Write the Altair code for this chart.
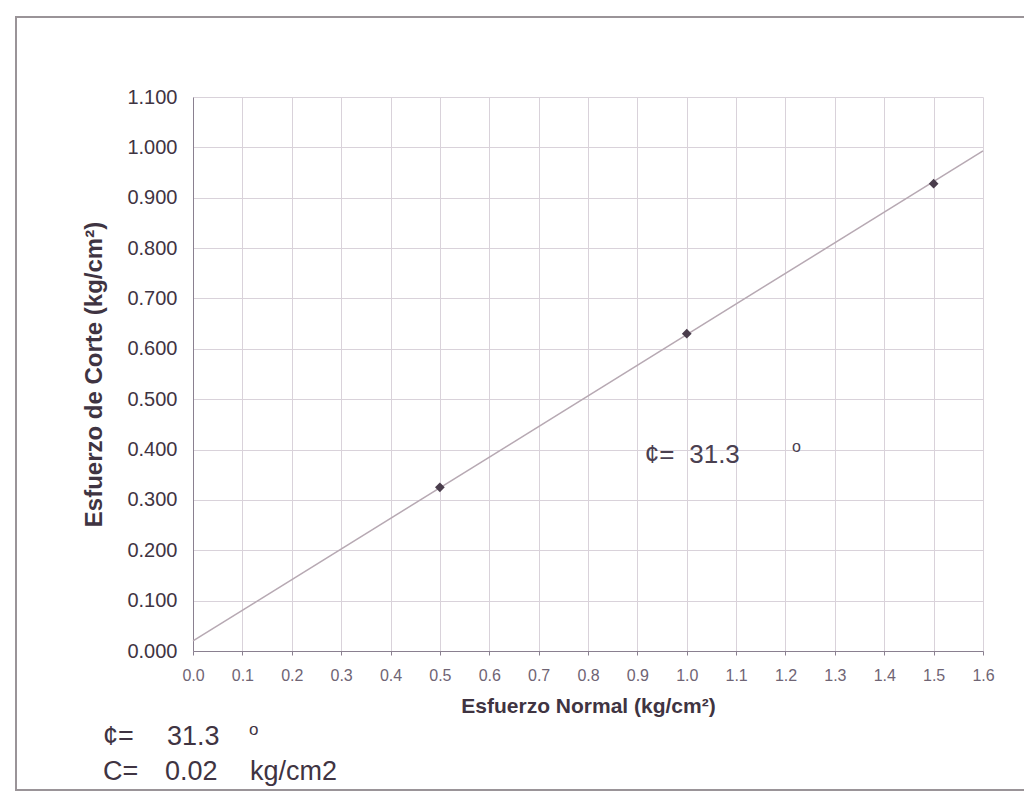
import altair as alt
import pandas as pd

# data points (normal stress, shear stress)
pt_x = [0.5, 1.0, 1.5]
pt_y = [0.325, 0.630, 0.928]

# fitted failure envelope
line_x = [0.0, 1.6]
line_y = [0.02, 0.993]

x_ticks = [round(i * 0.1, 1) for i in range(17)]
y_ticks = [round(i * 0.1, 1) for i in range(12)]

# annotation inside the plot
ann_text = ["¢=", "31.3", "o"]
ann_x = [0.915, 1.005, 1.213]
ann_y = [0.373, 0.373, 0.395]
ann_size = [26, 26, 16]

FONT = "Liberation Sans"
TXT = "#3f3442"

pts = pd.DataFrame({"x": pt_x, "y": pt_y})
ln = pd.DataFrame({"x": line_x, "y": line_y})
ann = pd.DataFrame({"t": ann_text, "x": ann_x, "y": ann_y, "s": ann_size})

xscale = alt.Scale(domain=[0, 1.6], nice=False, zero=False)
yscale = alt.Scale(domain=[0, 1.1], nice=False, zero=False)

xaxis = alt.Axis(values=x_ticks, format=".1f", title="Esfuerzo Normal (kg/cm²)",
                 labelFont=FONT, labelFontSize=16, labelColor="#6f6474",
                 labelPadding=12, tickSize=4, tickColor="#8a8090",
                 titleFont=FONT, titleFontSize=21, titleFontWeight="bold",
                 titleColor=TXT, titlePadding=12,
                 grid=True, gridColor="#d9d2da", domainColor="#8a8090",
                 labelFlush=False)
yaxis = alt.Axis(values=y_ticks, format=".3f", title="Esfuerzo de Corte (kg/cm²)",
                 labelFont=FONT, labelFontSize=20, labelColor=TXT,
                 labelPadding=16, tickSize=0,
                 titleFont=FONT, titleFontSize=24, titleFontWeight="bold",
                 titleColor=TXT, titlePadding=20,
                 grid=True, gridColor="#d9d2da", domainColor="#8a8090",
                 labelFlush=False)

line = alt.Chart(ln).mark_line(color="#b7a9b3", strokeWidth=1.5).encode(
    x=alt.X("x:Q", scale=xscale, axis=xaxis),
    y=alt.Y("y:Q", scale=yscale, axis=yaxis),
)

points = alt.Chart(pts).mark_point(shape="diamond", filled=True, color="#4a3d4c",
                                   size=95, opacity=1).encode(
    x=alt.X("x:Q", scale=xscale),
    y=alt.Y("y:Q", scale=yscale),
)

annot = alt.Chart(ann).mark_text(align="left", baseline="alphabetic", font=FONT,
                                 color="#4a4050").encode(
    x=alt.X("x:Q", scale=xscale),
    y=alt.Y("y:Q", scale=yscale),
    text="t:N",
    size=alt.Size("s:Q", scale=None, legend=None),
)

# footnote lines below the chart
foot_text = ["¢=", "31.3", "o", "C=", "0.02", "kg/cm2"]
foot_px = [-90, -26, 56, -90, -28, 57]
foot_py = [648, 648, 638, 683, 683, 683]
foot_size = [27, 27, 17, 27, 27, 27]
foot = pd.DataFrame({"t": foot_text, "px": foot_px, "py": foot_py, "s": foot_size})
footnote = alt.Chart(foot).mark_text(align="left", baseline="alphabetic", font=FONT,
                                     color=TXT).encode(
    x=alt.X("px:Q", scale=None),
    y=alt.Y("py:Q", scale=None),
    text="t:N",
    size=alt.Size("s:Q", scale=None, legend=None),
)

frame = alt.Chart(pd.DataFrame({"a": [0]})).mark_rect(
    fill=None, stroke="#9a9498", strokeWidth=2).encode(
    x=alt.value(-177), x2=alt.value(845), y=alt.value(-80), y2=alt.value(693))

chart = alt.layer(frame, line, points, annot, footnote).properties(
    width=790, height=554,
    autosize=alt.AutoSizeParams(type="none"),
    padding={"left": 193, "top": 97, "right": 41, "bottom": 149},
    background="white",
).configure_view(stroke=None)

chart.save("out.html", embed_options={"renderer": "svg", "actions": False})
